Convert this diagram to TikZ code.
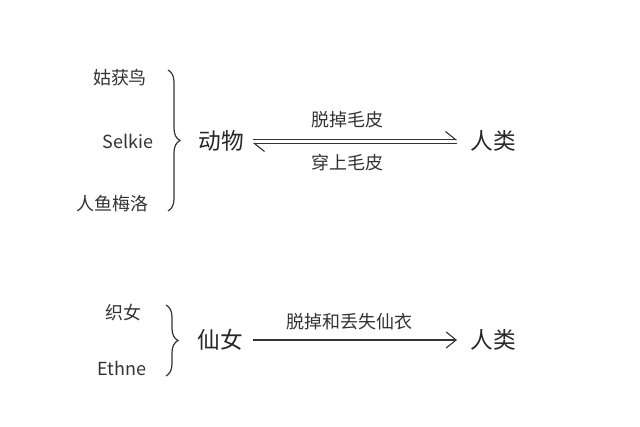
\documentclass[tikz,border=0pt]{standalone}
\usepackage{fontspec}
\setmainfont{Noto Sans CJK SC}
\usetikzlibrary{arrows.meta,decorations.pathreplacing}

\begin{document}
\begin{tikzpicture}[x=0.75pt,y=0.75pt,yscale=-1,
	small/.style={font=\fontsize{13.5}{16}\selectfont,text=black!80},
	big/.style={font=\fontsize{17}{20}\selectfont,text=black!85},
	rel/.style={font=\fontsize{13.5}{16}\selectfont,text=black!80},
	br/.style={decorate,decoration={brace,amplitude=9pt},line width=0.9pt,black!80},
	harp/.style={-{Straight Barb[harpoon,length=7.5pt,width=12pt]},line width=0.8pt,black!80}]
	\useasboundingbox (0,0) rectangle (640,427);
	
	% upper group
	\node[small] (guhuo) at (120,78) {姑获鸟};
	\node[small] (selkie) at (128,141) {Selkie};
	\node[small] (meiluo) at (112,204) {人鱼梅洛};
	\draw[br] (168,70) -- (168,211);
	\node[big] (dongwu) at (221,141) {动物};
	\node[big] (renlei1) at (493,141) {人类};
	\coordinate (a1) at (253,139.5);
	\coordinate (b1) at (457,139.5);
	\coordinate (a2) at (253,143.5);
	\coordinate (b2) at (457,143.5);
	\draw[harp] (a1) -- (b1);
	\draw[harp] (b2) -- (a2);
	\node[rel] (tuo) at (347,120) {脱掉毛皮};
	\node[rel] (chuan) at (347,163) {穿上毛皮};
	
	% lower group
	\node[small] (zhinv) at (123,313) {织女};
	\node[small] (ethne) at (122,368) {Ethne};
	\draw[br] (166,305) -- (166,376);
	\node[big] (xiannv) at (220,340) {仙女};
	\node[big] (renlei2) at (493,340) {人类};
	\coordinate (a3) at (253,340);
	\coordinate (b3) at (457,340);
	\draw[-{Straight Barb[length=7.5pt,width=12pt]},line width=0.8pt,black!80] (a3) -- (b3);
	\node[rel] (diu) at (349,322) {脱掉和丢失仙衣};
\end{tikzpicture}
\end{document}
